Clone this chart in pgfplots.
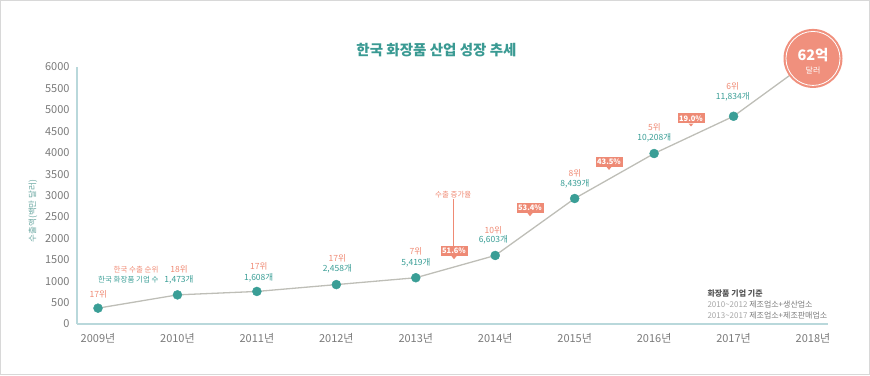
\documentclass[border=0pt]{standalone}
\usepackage{fontspec}
\setmainfont{Noto Sans CJK KR}
\usepackage{pgfplots}
\pgfplotsset{compat=1.18}
\definecolor{teal1}{HTML}{3A9E96}
\definecolor{titlec}{HTML}{3A9A93}
\definecolor{salmon}{HTML}{EF8A74}
\definecolor{boxc}{HTML}{EE8A75}
\definecolor{circc}{HTML}{F0907D}
\definecolor{axc}{HTML}{B9D8DB}
\definecolor{tickc}{HTML}{7A7A7A}
\definecolor{linec}{HTML}{BEBEB7}
\definecolor{notec}{HTML}{555555}
\definecolor{notelt}{HTML}{A5A5A5}
\definecolor{framec}{HTML}{D8D8D8}
\definecolor{ylabc}{HTML}{6AA7A1}
\newcommand{\fs}[1]{\fontsize{#1bp}{#1bp}\selectfont}
\newcommand{\callout}[3]{%
  \node[fill=boxc, text=white, font=\fs{7.5}\bfseries, inner sep=0pt, minimum width=27bp, minimum height=10bp] (c) at (#1,#2) {#3};
  \fill[boxc] ([xshift=-2.5bp]c.south) -- ([xshift=2.5bp]c.south) -- ([yshift=-3bp]c.south) -- cycle;}
\begin{document}
\begin{tikzpicture}
\begin{scope}[x=1bp,y=1bp]
\draw[framec, line width=1.5bp] (0.75,0.75) rectangle (869.25,374.25);
\end{scope}
\begin{axis}[at={(77bp,51bp)}, anchor=south west, scale only axis,
  width=751bp, height=257bp,
  xmin=2008.7357, xmax=2018.189, ymin=0, ymax=6000,
  axis x line*=bottom, axis y line*=left,
  axis line style={axc, line width=1.2bp, -},
  xtick={2009,2010,2011,2012,2013,2014,2015,2016,2017,2018},
  xticklabels={2009년,2010년,2011년,2012년,2013년,2014년,2015년,2016년,2017년,2018년},
  ytick={0,500,1000,1500,2000,2500,3000,3500,4000,4500,5000,5500,6000},
  major tick length=0pt,
  tick label style={text=tickc, font=\fs{11}},
  yticklabel style={xshift=-4bp},
  xticklabel style={yshift=-6bp},
  /pgf/number format/assume math mode=true,
  /pgf/number format/set thousands separator={},
  clip=false]
\addplot[linec, line width=1.3bp] coordinates {(2009,370) (2010,680) (2011,760) (2012,920) (2013,1080) (2014,1600) (2015,2930) (2016,3980) (2017,4850) (2018,6200)};
\addplot[only marks, mark=*, mark size=4.5bp, color=teal1, mark options={fill=teal1, draw=teal1}] coordinates {(2009,370) (2010,680) (2011,760) (2012,920) (2013,1080) (2014,1600) (2015,2930) (2016,3980) (2017,4850)};
\fill[circc] (axis cs:2018,6200) circle (29.5bp);
\draw[white, line width=0.8bp] (axis cs:2018,6200) circle (27bp);
\node[text=white, font=\fs{14.5}\bfseries] at ([yshift=3bp]axis cs:2018,6200) {62억};
\node[text=white, font=\fs{8}] at ([yshift=-12.5bp]axis cs:2018,6200) {달러};
\end{axis}
\begin{scope}[x=1bp,y=1bp]
\node[text=titlec, font=\fs{14.5}\bfseries] at (436.5,325) {한국 화장품 산업 성장 추세};
\node[text=ylabc, font=\fs{8.5}, rotate=90] at (33,164) {수출액(백만 달러)};
% legend-like labels
\node[text=salmon, font=\fs{7.5}, anchor=east] at (162,105.7) {한국 수출 순위};
\node[text=teal1, font=\fs{7.5}, anchor=east] at (162,95) {한국 화장품 기업 수};
% ranks and counts
\node[text=salmon, font=\fs{8.5}] at (98.3,81) {17위};
\node[text=salmon, font=\fs{8.5}] at (179,105.7) {18위};
\node[text=teal1, font=\fs{8.5}] at (179,95) {1,473개};
\node[text=salmon, font=\fs{8.5}] at (258.7,108.3) {17위};
\node[text=teal1, font=\fs{8.5}] at (258.7,97.7) {1,608개};
\node[text=salmon, font=\fs{8.5}] at (337.3,116.3) {17위};
\node[text=teal1, font=\fs{8.5}] at (337.3,106) {2,458개};
\node[text=salmon, font=\fs{8.5}] at (416,124) {7위};
\node[text=teal1, font=\fs{8.5}] at (416,112.7) {5,419개};
\node[text=salmon, font=\fs{8.5}] at (493.3,145) {10위};
\node[text=teal1, font=\fs{8.5}] at (493.3,135) {6,603개};
\node[text=salmon, font=\fs{8.5}] at (575,202) {8위};
\node[text=teal1, font=\fs{8.5}] at (575,191) {8,439개};
\node[text=salmon, font=\fs{8.5}] at (654.3,247.7) {5위};
\node[text=teal1, font=\fs{8.5}] at (654.3,237) {10,208개};
\node[text=salmon, font=\fs{8.5}] at (732.7,289) {6위};
\node[text=teal1, font=\fs{8.5}] at (732.7,278) {11,834개};
% growth callouts
\node[text=salmon, font=\fs{7.5}] at (453.3,180.7) {수출 증가율};
\draw[salmon, line width=0.7bp] (453.3,176) -- (453.3,129);
\callout{454}{124}{51.6\%}
\callout{530}{167}{53.4\%}
\callout{609}{213.3}{43.5\%}
\callout{691}{256.7}{19.0\%}
% note
\node[text=notec, font=\fs{8}\bfseries, anchor=west] at (704,81.7) {화장품 기업 기준};
\node[font=\fs{8}, anchor=west] at (704,70) {\textcolor{notelt}{2010\textasciitilde 2012} \textcolor{tickc}{제조업소+생산업소}};
\node[font=\fs{8}, anchor=west] at (704,59) {\textcolor{notelt}{2013\textasciitilde 2017} \textcolor{tickc}{제조업소+제조판매업소}};
\end{scope}
\end{tikzpicture}
\end{document}
